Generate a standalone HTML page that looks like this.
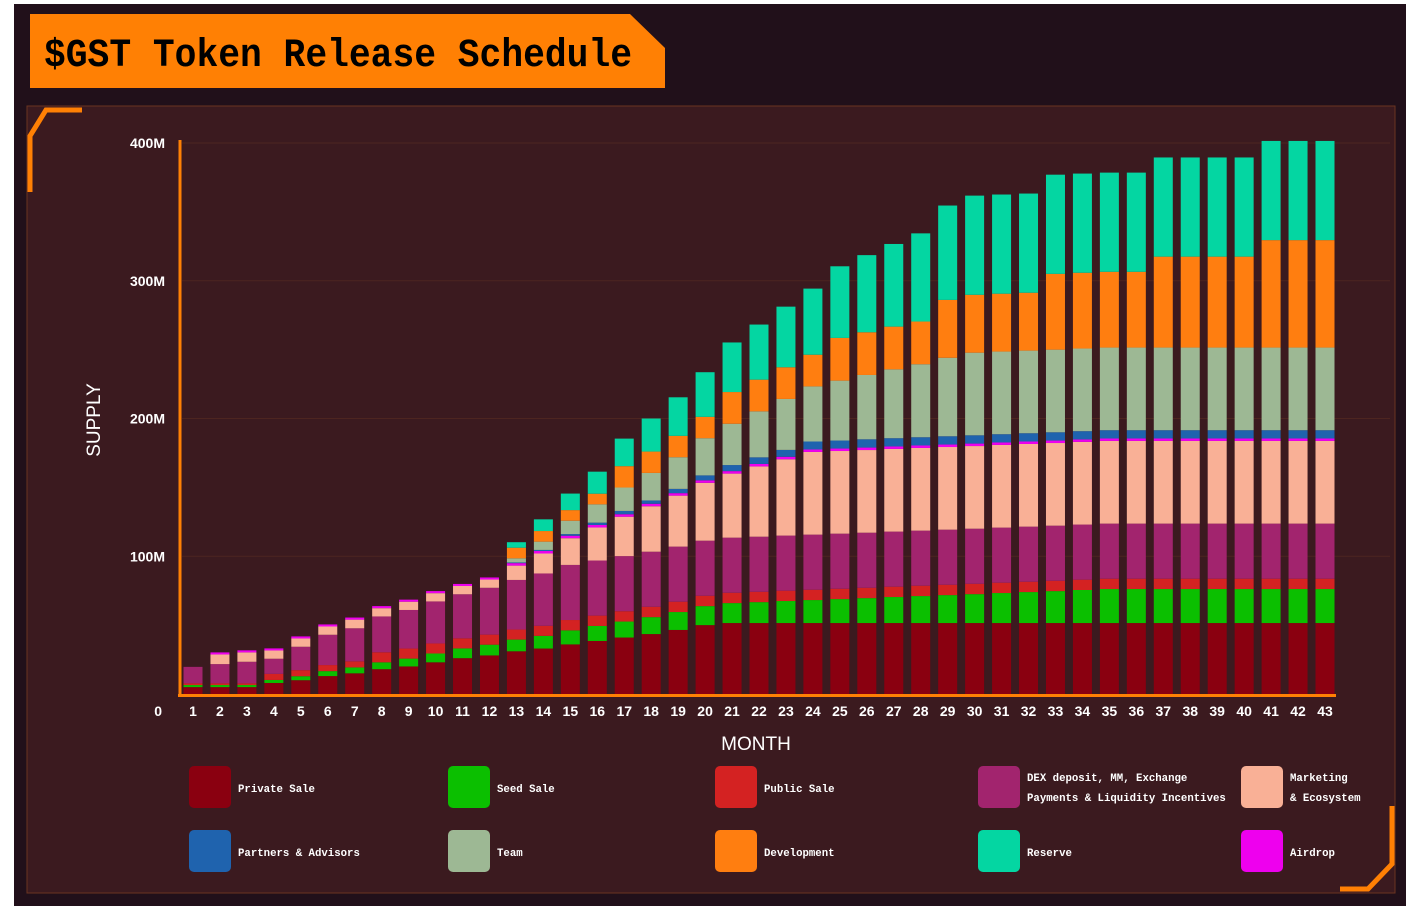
<!DOCTYPE html>
<html><head><meta charset="utf-8"><style>
html,body{margin:0;padding:0;background:#fff;width:1418px;height:918px;overflow:hidden}
svg{display:block}
text{font-family:"Liberation Mono",monospace;font-weight:bold}
</style></head><body>
<svg id="chart" width="1418" height="918">
<rect x="14" y="4" width="1392" height="902" fill="#21101a"/>
<rect x="27" y="106" width="1368" height="787" fill="#3b1a1f" stroke="#6a3420" stroke-width="1"/>
<polygon points="30,14 630,14 665,48 665,88 30,88" fill="#ff8004"/>
<text x="44" y="66" font-size="40" fill="#000" textLength="588" lengthAdjust="spacingAndGlyphs">$GST Token Release Schedule</text>
<polyline points="82,110 46,110 30,136 30,192" fill="none" stroke="#ff8004" stroke-width="5"/>
<polyline points="1340,889 1368,889 1392,864 1392,806" fill="none" stroke="#ff8004" stroke-width="5"/>
<g id="plot"></g>
<text x="100" y="420" font-size="19" fill="#fff" text-anchor="middle" transform="rotate(-90 100 420)" style="font-family:'Liberation Sans',sans-serif;font-weight:normal">SUPPLY</text>
<text x="756" y="750" font-size="19" fill="#fff" text-anchor="middle" style="font-family:'Liberation Sans',sans-serif;font-weight:normal">MONTH</text>
<g id="legend"></g>
</svg>
<script>
const months = [];
for (let i = 1; i <= 43; i++) months.push(i);
const seriesNames = ["Private Sale","Seed Sale","Public Sale","DEX deposit, MM, Exchange|Payments & Liquidity Incentives","Marketing|& Ecosystem","Airdrop","Partners & Advisors","Team","Development","Reserve"];
const seriesColors = ["#8a0010","#0bbf00","#d42222","#a2246e","#f9b096","#ee00ee","#1f63ae","#9db894","#ff7e10","#04d6a2"];
const privateSale = [5,5,5,8,10,13,15,18,20,23,26,28,31,33,36,38.5,41,43.5,46.5,50,51.5,51.5,51.5,51.5,51.5,51.5,51.5,51.5,51.5,51.5,51.5,51.5,51.5,51.5,51.5,51.5,51.5,51.5,51.5,51.5,51.5,51.5,51.5];
const seedSale = [1.5,1.5,1.5,2.2,2.9,3.6,4.3,5.0,5.7,6.4,7.1,7.8,8.5,9.2,10.2,10.9,11.6,12.3,13.0,13.8,14.5,15.2,16.0,16.7,17.4,18.1,18.9,19.6,20.3,21.0,21.8,22.5,23.2,24.0,24.7,24.7,24.7,24.7,24.7,24.7,24.7,24.7,24.7];
const publicSale = [1.2,1.2,1.2,4.4,4.4,4.4,4.4,7.3,7.3,7.3,7.3,7.3,7.3,7.3,7.5,7.5,7.5,7.5,7.5,7.5,7.5,7.5,7.5,7.5,7.5,7.5,7.5,7.5,7.5,7.5,7.5,7.5,7.5,7.5,7.5,7.5,7.5,7.5,7.5,7.5,7.5,7.5,7.5];
const dex = [12,14,15.7,11,17,22,24,26,28,30.5,32,34,36,38,40,40,40,40,40,40,40,40,40,40,40,40,40,40,40,40,40,40,40,40,40,40,40,40,40,40,40,40,40];
const marketing = [0,7,6.8,6,6,6,6.3,6,6,6,6,6,10.4,14.5,19.4,24,28.6,33,37,42,46.5,51,55.4,60,60,60,60,60,60,60,60,60,60,60,60,60,60,60,60,60,60,60,60];
const airdrop = [0,1.5,1.5,1.5,1.5,1.5,1.5,1.5,1.5,1.5,1.5,1.5,1.8,1.8,1.8,1.8,1.8,1.8,1.8,1.8,1.8,1.8,1.8,1.8,1.8,1.8,1.8,1.8,1.8,1.8,1.8,1.8,1.8,1.8,1.8,1.8,1.8,1.8,1.8,1.8,1.8,1.8,1.8];
const partners = [0,0,0,0,0,0,0,0,0,0,0,0,0.5,0.8,1.2,1.7,2.4,2.4,3.1,3.6,4.4,4.8,5,5.8,5.8,6,6,6,6,6,6,6,6,6,6,6,6,6,6,6,6,6,6];
const team = [0,0,0,0,0,0,0,0,0,0,0,0,3,6,9.7,13.3,17,20,23,27,30,33.4,37,40,43.5,46.7,50,53,57,60,60,60,60,60,60,60,60,60,60,60,60,60,60];
const development = [0,0,0,0,0,0,0,0,0,0,0,0,7.7,7.7,7.7,7.7,15.5,15.5,15.5,15.5,23,23,23,23,31,31,31,31,42,42,42,42,55,55,55,55,66,66,66,66,78,78,78];
const reserve = [0,0,0,0,0,0,0,0,0,0,0,0,4,8.5,12,16,20,24,28,32.4,36,40,44,48,52,56,60,64,68.5,72,72,72,72,72,72,72,72,72,72,72,72,72,72];
const yTicks = [0,100,200,300,400];
const yTickLabels = ["0","100M","200M","300M","400M"];

const allSeries = [privateSale,seedSale,publicSale,dex,marketing,airdrop,partners,team,development,reserve];
const NS = "http://www.w3.org/2000/svg";
const y0 = 694, yTop = 143, yMax = 400;
function yScale(v){ return y0 - v/yMax*(y0-yTop); }
function xScale(m){ return 193 + (m-1)*(1325-193)/42; }
const barW = 19;
const plot = document.getElementById('plot');
function mk(tag, attrs, parent){ const e=document.createElementNS(NS,tag); for(const k in attrs) e.setAttribute(k,attrs[k]); parent.appendChild(e); return e; }

yTicks.forEach((t,i)=>{
  const y = yScale(t);
  if (t>0) { const g = mk('line',{x1:182,x2:1390,y1:y,y2:y,stroke:'#4d2520','stroke-width':1},plot);
    
     }
  const lbl = mk('text',{x: t===0?162:165, y: t===0?716:y+5,'font-size':14,fill:'#fff','text-anchor':'end'},plot);
  lbl.style.fontFamily="'Liberation Sans',sans-serif";
  lbl.textContent = yTickLabels[i];
  
  
});

months.forEach((m,mi)=>{
  let cum = 0;
  const x = xScale(m) - barW/2;
  allSeries.forEach((s,si)=>{
    const v = s[mi];
    if (v>0) {
      const r = mk('rect',{x:x,y:yScale(cum+v),width:barW,height:yScale(cum)-yScale(cum+v),fill:seriesColors[si]},plot);
      
      
    }
    cum += v;
  });
  const t = mk('text',{x:xScale(m),y:716,'font-size':14,fill:'#fff','text-anchor':'middle'},plot);
  t.style.fontFamily="'Liberation Sans',sans-serif";
  t.textContent = m;
  
  
});

const ya = mk('line',{x1:180,x2:180,y1:140,y2:697,stroke:'#ff8004','stroke-width':3},plot);


const xa = mk('line',{x1:178,x2:1336,y1:695.5,y2:695.5,stroke:'#ff8004','stroke-width':3},plot);



const legend = document.getElementById('legend');
const legOrder = [0,1,2,3,4,6,7,8,9,5];
const colX = [189,448,715,978,1241];
legOrder.forEach((si,i)=>{
  const col = i%5, row = Math.floor(i/5);
  const sx = colX[col], sy = row===0?766:830;
  const sw = mk('rect',{x:sx,y:sy,width:42,height:42,rx:5,fill:seriesColors[si]},legend);
  
  
  const lines = seriesNames[si].split('|');
  const t = mk('text',{x:sx+49,'font-size':10.7,fill:'#fff'},legend);
  
  
  lines.forEach((ln,li)=>{
    const ts = mk('tspan',{x:sx+49,y: lines.length===1? sy+26 : sy+15+li*20},t);
    ts.textContent = ln;
  });
});
</script>
</body></html>
